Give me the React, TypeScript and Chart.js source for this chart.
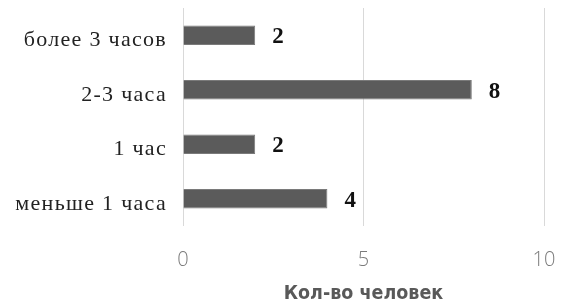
import React, { useEffect, useRef } from "react";
import { Chart, registerables } from "chart.js";

Chart.register(...registerables);

const categories = ["более 3 часов", "2-3 часа", "1 час", "меньше 1 часа"];
const values = [2, 8, 2, 4];
const xTicks = [0, 5, 10];
const axisTitle = "Кол-во человек";

const valueLabels = {
  id: "valueLabels",
  afterDatasetsDraw(chart: any) {
    const ctx = chart.ctx;
    const meta = chart.getDatasetMeta(0);
    ctx.save();
    ctx.font = "bold 23px 'Liberation Serif', 'Times New Roman', serif";
    ctx.fillStyle = "#111";
    ctx.textAlign = "left";
    ctx.textBaseline = "middle";
    meta.data.forEach((el: any, i: number) => {
      ctx.fillText(String(values[i]), el.x + 17, el.y + 2);
    });
    ctx.restore();
    // the category tick labels (ticks.z: 1) are drawn after this point: widen their serif text a bit
    ctx.letterSpacing = "1.3px";
  },
  afterDraw(chart: any) {
    chart.ctx.letterSpacing = "0px";
  },
};

export default function App() {
  const ref = useRef<HTMLCanvasElement | null>(null);
  useEffect(() => {
    document.body.style.margin = "0";
    const chart = new Chart(ref.current!, {
      type: "bar",
      data: {
        labels: categories,
        datasets: [
          {
            data: values,
            backgroundColor: "#5b5b5b",
            borderColor: "#7a7a7a",
            borderWidth: 1,
            categoryPercentage: 1,
            barPercentage: 0.355,
          },
        ],
      },
      plugins: [valueLabels],
      options: {
        indexAxis: "y",
        animation: false,
        responsive: false,
        maintainAspectRatio: false,
        layout: { padding: { left: 0, right: 22, top: 8, bottom: 0 } },
        plugins: { legend: { display: false }, tooltip: { enabled: false } },
        scales: {
          x: {
            min: 0,
            max: 10,
            afterBuildTicks: (scale: any) => {
              scale.ticks = xTicks.map((v) => ({ value: v }));
            },
            afterFit: (scale: any) => {
              scale.height = 80;
              scale.paddingLeft = 0;
              scale.paddingRight = 0;
            },
            grid: { color: "#d9d9d9", lineWidth: 1, drawTicks: false },
            border: { display: false },
            ticks: {
              padding: 22,
              color: "#7a7a7a",
              font: { family: "'Open Sans', 'DejaVu Sans', sans-serif", size: 20, weight: "300" as any },
            },
            title: {
              display: true,
              text: axisTitle,
              color: "#595959",
              padding: { top: 6, bottom: 0 },
              font: { family: "'DejaVu Sans Condensed', 'DejaVu Sans', sans-serif", size: 19.5, weight: "bold" },
            },
          },
          y: {
            afterFit: (scale: any) => {
              scale.width = 183;
              scale.paddingTop = 0;
              scale.paddingBottom = 0;
            },
            grid: { display: false, drawTicks: false },
            border: { display: false },
            ticks: {
              z: 1,
              padding: 16,
              labelOffset: 5,
              color: "#222",
              font: { family: "'Liberation Serif', 'Times New Roman', serif", size: 22 },
            },
          },
        },
      },
    });
    return () => chart.destroy();
  }, []);
  return (
    <div style={{ position: "relative", width: 566, height: 306 }}>
      <canvas ref={ref} width={566} height={306} style={{ width: 566, height: 306 }} />
    </div>
  );
}
